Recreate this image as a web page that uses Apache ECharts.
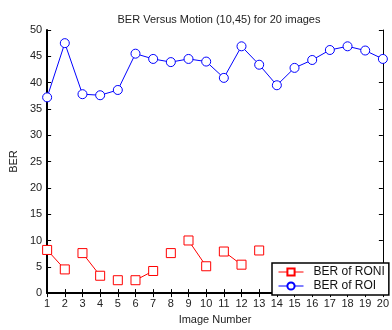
<!DOCTYPE html>
<html>
<head>
<meta charset="utf-8">
<script src="https://cdn.jsdelivr.net/npm/echarts@6/dist/echarts.min.js"></script>
<style>
  html, body { margin: 0; padding: 0; background: #fff; }
  #chart { width: 392px; height: 330px; }
</style>
</head>
<body>
<div id="chart"></div>
<script>
// image numbers 1..20
const images = [1, 2, 3, 4, 5, 6, 7, 8, 9, 10, 11, 12, 13, 14, 15, 16, 17, 18, 19, 20]
const roi = [37.2, 47.5, 37.8, 37.6, 38.6, 45.5, 44.5, 43.9, 44.5, 44.0, 40.9, 46.9, 43.4, 39.5, 42.8, 44.3, 46.2, 46.9, 46.1, 44.5]
// 14..19 sit behind the legend box in the picture
const roni = [8.2, 4.5, 7.6, 3.3, 2.45, 2.45, 4.2, 7.6, 10.0, 5.1, 7.9, 5.4, 8.1, null, null, null, null, null, null, 4.5]
// which neighbouring RONI points show a joining line (start index of segment)
const roniLinks = [0, 2, 5, 8, 10]
const yTicks = [0, 5, 10, 15, 20, 25, 30, 35, 40, 45, 50]

const chart = echarts.init(document.getElementById('chart'))

const font = 'Liberation Sans, Arial, sans-serif'
const red = '#ff0000'
const blue = '#0000ff'

// RONI points, with a null in between where no line joins them
const roniData = []
images.forEach((x, i) => {
  roniData.push([x, roni[i]])
  if (i < images.length - 1 && roniLinks.indexOf(i) < 0) {
    roniData.push([x + 0.5, null])
  }
})

const option = {
  animation: false,
  title: {
    text: 'BER Versus Motion (10,45) for 20 images',
    left: 214,
    textAlign: 'center',
    top: 9,
    textStyle: { fontFamily: font, fontSize: 11, fontWeight: 'normal', color: '#222' }
  },
  grid: { left: 42, right: 6, top: 30, bottom: 28 },
  legend: {
    data: ['BER of RONI', 'BER of ROI'],
    orient: 'vertical',
    left: 272,
    top: 263,
    itemWidth: 25,
    itemHeight: 9,
    itemGap: 2,
    padding: [3, 4, 3, 6],
    backgroundColor: '#fff',
    borderColor: '#000',
    borderWidth: 1.5,
    borderRadius: 0,
    lineStyle: { width: 1 },
    textStyle: { fontFamily: font, fontSize: 12, color: '#111', padding: [0, 0, 0, 5] }
  },
  xAxis: [
    {
      type: 'value',
      min: 1,
      max: 20,
      interval: 1,
      name: 'Image Number',
      nameLocation: 'middle',
      nameGap: 20,
      nameTextStyle: { fontFamily: font, fontSize: 11, color: '#222' },
      axisLine: { lineStyle: { color: '#000', width: 2 } },
      axisTick: { inside: true, length: 4, lineStyle: { color: '#000' } },
      axisLabel: { fontFamily: font, fontSize: 11, color: '#222', margin: 5 },
      splitLine: { show: false }
    },
    {
      type: 'value',
      position: 'top',
      min: 1,
      max: 20,
      interval: 1,
      axisLine: { lineStyle: { color: '#000', width: 1 } },
      axisTick: { inside: true, length: 4, lineStyle: { color: '#000' } },
      axisLabel: { show: false },
      splitLine: { show: false }
    }
  ],
  yAxis: [
    {
      type: 'value',
      min: yTicks[0],
      max: yTicks[yTicks.length - 1],
      interval: 5,
      name: 'BER',
      nameLocation: 'middle',
      nameGap: 25,
      nameTextStyle: { fontFamily: font, fontSize: 11, color: '#222' },
      axisLine: { show: true, lineStyle: { color: '#000', width: 2 } },
      axisTick: { show: true, inside: true, length: 4, lineStyle: { color: '#000' } },
      axisLabel: { fontFamily: font, fontSize: 11, color: '#222', margin: 5 },
      splitLine: { show: false }
    },
    {
      type: 'value',
      position: 'right',
      min: 0,
      max: 50,
      interval: 5,
      axisLine: { show: true, lineStyle: { color: '#000', width: 1 } },
      axisTick: { show: true, inside: true, length: 4, lineStyle: { color: '#000' } },
      axisLabel: { show: false },
      splitLine: { show: false }
    }
  ],
  series: [
    {
      name: 'BER of RONI',
      type: 'line',
      data: roniData,
      connectNulls: false,
      symbol: 'rect',
      symbolSize: 9,
      itemStyle: { color: '#fff', borderColor: red, borderWidth: 1 },
      lineStyle: { width: 1, color: red }
    },
    {
      name: 'BER of ROI',
      type: 'line',
      data: images.map((x, i) => [x, roi[i]]),
      symbol: 'circle',
      symbolSize: 9,
      itemStyle: { color: '#fff', borderColor: blue, borderWidth: 1 },
      lineStyle: { width: 1, color: blue }
    }
  ]
}

chart.setOption(option)
</script>
</body>
</html>
